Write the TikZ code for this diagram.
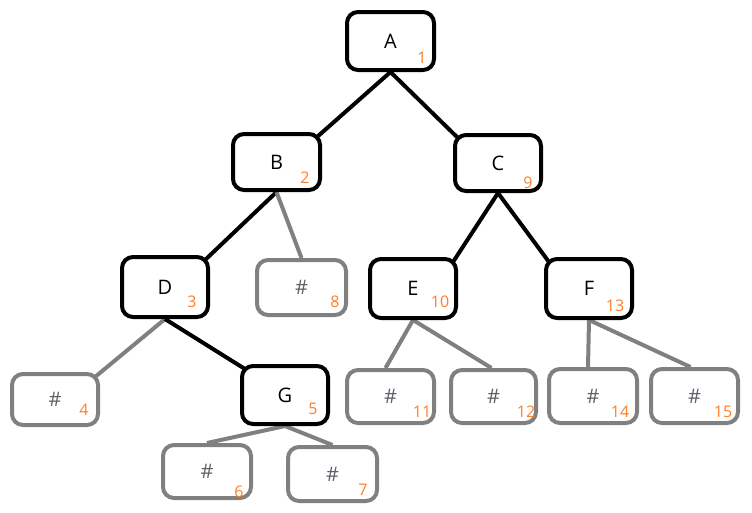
\documentclass[tikz,border=0pt]{standalone}
\usepackage{fontspec}
\setmainfont{Open Sans}
\usetikzlibrary{backgrounds}
\definecolor{numorange}{RGB}{255,127,39}
\definecolor{boxgray}{RGB}{128,128,128}
\definecolor{hashgray}{RGB}{95,95,105}
\tikzset{
  box/.style={rectangle, rounded corners=11pt, line width=4pt, draw=black, fill=white, inner sep=0pt, font=\fontsize{20}{20}\selectfont},
  hbox/.style={box, draw=boxgray, text=hashgray, font=\fontsize{20}{20}\selectfont},
  num/.style={text=numorange, inner sep=0pt, font=\fontsize{16}{16}\selectfont},
  blk/.style={line width=4pt, draw=black},
  gry/.style={line width=4pt, draw=boxgray},
}
\begin{document}
\begin{tikzpicture}[x=1pt,y=-1pt]
\useasboundingbox (0,0) rectangle (752,512);
% boxes
\node[box, minimum width=87pt, minimum height=58pt] (A) at (390.5,41) {A};
\node[box, minimum width=87pt, minimum height=56pt] (B) at (276.5,162) {B};
\node[box, minimum width=86pt, minimum height=56pt] (C) at (498,163) {C};
\node[box, minimum width=86pt, minimum height=60pt] (D) at (165,287) {D};
\node[hbox, minimum width=89pt, minimum height=55pt] (h8) at (301.5,287.5) {\#};
\node[box, minimum width=86pt, minimum height=59pt] (E) at (413,288.5) {E};
\node[box, minimum width=86pt, minimum height=59pt] (F) at (589,288.5) {F};
\node[hbox, minimum width=86pt, minimum height=51pt] (h4) at (55,399.5) {\#};
\node[box, minimum width=86pt, minimum height=58pt] (G) at (285,395) {G};
\node[hbox, minimum width=87pt, minimum height=53pt] (h11) at (390.5,396.5) {\#};
\node[hbox, minimum width=85pt, minimum height=53pt] (h12) at (493.5,396.5) {\#};
\node[hbox, minimum width=88pt, minimum height=54pt] (h14) at (593,396) {\#};
\node[hbox, minimum width=87pt, minimum height=54pt] (h15) at (694.5,396) {\#};
\node[hbox, minimum width=88pt, minimum height=53pt] (h6) at (207,471.5) {\#};
\node[hbox, minimum width=89pt, minimum height=54pt] (h7) at (332.5,474) {\#};
% numbers
\node[num] (n1) at (422,58) {1};
\node[num] (n2) at (305,178) {2};
\node[num] (n3) at (192,302) {3};
\node[num] (n4) at (84,410) {4};
\node[num] (n5) at (313,409) {5};
\node[num] (n6) at (239,492) {6};
\node[num] (n7) at (363,490) {7};
\node[num] (n8) at (335,302) {8};
\node[num] (n9) at (528,183) {9};
\node[num] (n10) at (440,302) {10};
\node[num] (n11) at (422,412) {11};
\node[num] (n12) at (526,412) {12};
\node[num] (n13) at (615,306) {13};
\node[num] (n14) at (620,412) {14};
\node[num] (n15) at (723,412) {15};
% connectors
\begin{scope}[on background layer]
\draw[blk] (A.south) -- ([shift={(-5pt,-5pt)}]B.north east);
\draw[blk] (A.south) -- ([shift={(5pt,-5pt)}]C.north west);
\draw[blk] (B.south) -- ([shift={(-5pt,-5pt)}]D.north east);
\draw[gry] (B.south) -- (h8.north);
\draw[gry] (D.south) -- ([shift={(-5pt,-5pt)}]h4.north east);
\draw[blk] (D.south) -- ([shift={(5pt,-5pt)}]G.north west);
\draw[gry] (G.south) -- (h6.north);
\draw[gry] (G.south) -- (h7.north);
\draw[blk] (C.south) -- ([shift={(-5pt,-5pt)}]E.north east);
\draw[blk] (C.south) -- ([shift={(5pt,-5pt)}]F.north west);
\draw[gry] (E.south) -- ([xshift=-5pt]h11.north);
\draw[gry] (E.south) -- ([xshift=-2pt]h12.north);
\draw[gry] (F.south) -- ([xshift=-5pt]h14.north);
\draw[gry] (F.south) -- ([xshift=-4pt]h15.north);
\end{scope}
\end{tikzpicture}
\end{document}
